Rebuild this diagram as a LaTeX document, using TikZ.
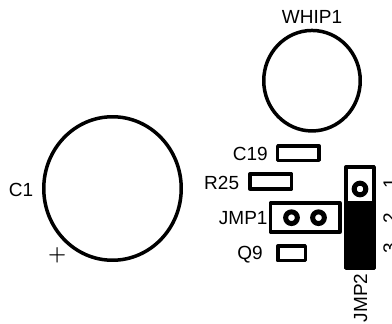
\documentclass[tikz,border=0pt]{standalone}
\usepackage{fontspec}
\setmainfont{Liberation Sans}
\usetikzlibrary{shapes.geometric,positioning}

\begin{document}
\begin{tikzpicture}[x=1pt,y=-1pt,line join=round,
                    outline/.style={draw,line width=3.5pt,inner sep=0pt},
                    can/.style={outline,ellipse},
                    pad/.style={outline,rectangle},
                    hole/.style={circle,draw,line width=5pt,inner sep=0pt,minimum size=11.7pt},
                    tag/.style={inner sep=0pt,font=\fontsize{19}{19}\selectfont},
                    sidetag/.style={tag,yshift=-1pt}]
  \useasboundingbox (0,0) rectangle (392,324);

  % round parts
  \node[can,minimum width=137.5pt,minimum height=143.5pt] (C1)   at (112.5,188.5) {};
  \node[can,minimum width=96.5pt,minimum height=100.5pt]  (WHIP) at (312,80.7)    {};

  % small parts
  \node[pad,minimum width=41.2pt,minimum height=14.5pt] (C19)  at (298.3,153)   {};
  \node[pad,minimum width=41.5pt,minimum height=14.9pt] (R25)  at (270.8,181.5) {};
  \node[pad,minimum width=69.5pt,minimum height=28.9pt] (JMP1) at (305.2,217.5) {};
  \node[pad,minimum width=27.5pt,minimum height=14.5pt] (Q9)   at (291.5,253.3) {};

  % jumper with its pin window
  \node[pad,fill=black,minimum width=28.2pt,minimum height=101.5pt] (JMP2) at (360.2,217.5) {};
  \node[fill=white,inner sep=0pt,minimum width=24pt,minimum height=32pt] (window) at (360,185) {};

  \node[hole] (pinA) at (291.5,217.7) {};
  \node[hole] (pinB) at (318.5,217.7) {};
  \node[hole] (pinC) at (360,189)     {};

  % labels
  \node[sidetag] (C1label)   [left=8.7pt of C1]   {C1};
  \node[tag]     (WHIPlabel) [above=5.4pt of WHIP] {WHIP1};
  \node[sidetag] (C19label)  [left=8pt of C19]    {C19};
  \node[sidetag] (R25label)  [left=9pt of R25]    {R25};
  \node[sidetag] (JMP1label) [left=1pt of JMP1]   {JMP1};
  \node[sidetag] (Q9label)   [left=13pt of Q9]    {Q9};
  \node[tag,rotate=90] (JMP2label) at (360.5,298) {JMP2};
  \node[tag,rotate=90] (one)   at (390,183) {1};
  \node[tag,rotate=90] (two)   at (390,218) {2};
  \node[tag,rotate=90] (three) at (390,248) {3};
  \node[inner sep=0pt,font=\fontsize{20}{20}\selectfont\boldmath] (plus) at (57.3,255) {$+$};
\end{tikzpicture}
\end{document}
